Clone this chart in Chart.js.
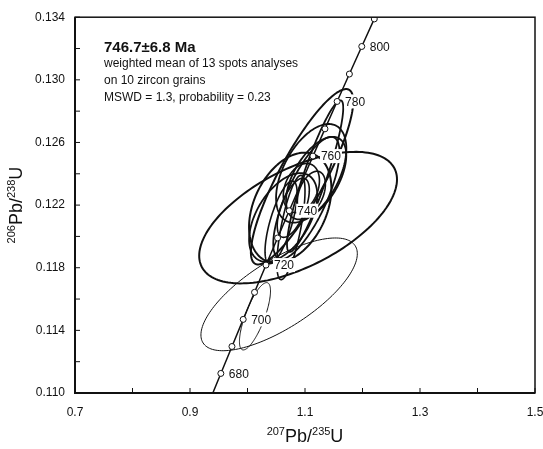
<!DOCTYPE html>
<html>
<head>
<meta charset="utf-8">
<script src="https://cdn.jsdelivr.net/npm/chart.js@4"></script>
<style>
  body { margin: 0; background: #fff; }
  #wrap { width: 543px; height: 449px; }
</style>
</head>
<body>
<div id="wrap"><canvas id="chart" width="543" height="449"></canvas></div>
<script>
// Concordia curve: ages (Ma) and their 207Pb/235U, 206Pb/238U ratios
const concAge = [670, 680, 690, 700, 710, 720, 730, 740, 750, 760, 770, 780, 790, 800, 810, 820];
const concX = [0.93450, 0.95365, 0.97298, 0.99251, 1.01223, 1.03215, 1.05226, 1.07257, 1.09308, 1.11380, 1.13472, 1.15585, 1.17719, 1.19873, 1.22049, 1.24247];
const concY = [0.10953, 0.11125, 0.11297, 0.11470, 0.11643, 0.11817, 0.11990, 0.12164, 0.12338, 0.12513, 0.12687, 0.12862, 0.13037, 0.13213, 0.13389, 0.13565];
const labelAges = [680, 700, 720, 740, 760, 780, 800];
const hiddenAges = [670, 750, 820];

// Spot analyses: centre, half widths of the error ellipse and correlation
const ellCx  = [1.088, 1.055, 1.013, 1.0949, 1.1176, 1.1108, 1.1194, 1.0743, 1.0621, 1.0937, 1.1111, 1.0796, 1.0584, 1.0756, 1.1024];
const ellCy  = [0.1212, 0.1163, 0.1149, 0.12381, 0.12385, 0.12403, 0.12372, 0.12183, 0.12121, 0.12309, 0.12278, 0.12183, 0.1209, 0.12057, 0.12246];
const ellSx  = [0.172, 0.136, 0.027, 0.0890, 0.0489, 0.0611, 0.0524, 0.0716, 0.0593, 0.0314, 0.0244, 0.0279, 0.0279, 0.0244, 0.0576];
const ellSy  = [0.0042, 0.0036, 0.00215, 0.0056, 0.00484, 0.00315, 0.00264, 0.00352, 0.00283, 0.00157, 0.00138, 0.00189, 0.00264, 0.00333, 0.0039];
const ellRho = [0.58, 0.72, 0.75, 0.86, 0.90, 0.50, 0.55, 0.35, 0.50, 0.30, 0.40, 0.60, 0.70, 0.70, 0.75];
const ellWidth = [2, 1, 1, 2, 1.8, 1.8, 1.8, 2, 1.8, 1.6, 1.6, 1.6, 1.6, 1.6, 1.8];

const xTickLabels = ['0.7', '0.9', '1.1', '1.3', '1.5'];
const yTickLabels = ['0.110', '0.114', '0.118', '0.122', '0.126', '0.130', '0.134'];

const noteTitle = '746.7\u00b16.8 Ma';
const noteLines = ['weighted mean of 13 spots analyses', 'on 10 zircon grains', 'MSWD = 1.3, probability = 0.23'];

const INK = '#111';
const FONT = 'Arial, "Liberation Sans", sans-serif';

const ellipsePlugin = {
  id: 'ellipses',
  beforeDatasetsDraw(chart) {
    const { ctx, chartArea: a, scales: { x, y } } = chart;
    ctx.save();
    ctx.beginPath();
    ctx.rect(a.left, a.top, a.right - a.left, a.bottom - a.top);
    ctx.clip();
    ctx.strokeStyle = INK;
    ctx.lineJoin = 'round';
    for (let i = 0; i < ellCx.length; i++) {
      const r = ellRho[i], q = Math.sqrt(1 - r * r);
      ctx.beginPath();
      for (let k = 0; k <= 160; k++) {
        const t = k / 160 * Math.PI * 2;
        const vx = ellCx[i] + ellSx[i] * Math.cos(t);
        const vy = ellCy[i] + ellSy[i] * (r * Math.cos(t) + q * Math.sin(t));
        const px = x.getPixelForValue(vx), py = y.getPixelForValue(vy);
        if (k === 0) ctx.moveTo(px, py); else ctx.lineTo(px, py);
      }
      ctx.lineWidth = ellWidth[i];
      ctx.stroke();
    }
    ctx.restore();
  }
};

const decorPlugin = {
  id: 'decor',
  afterDraw(chart) {
    const { ctx, chartArea: a, scales: { x, y } } = chart;
    ctx.save();
    // frame
    ctx.strokeStyle = INK;
    ctx.lineWidth = 1.5;
    ctx.strokeRect(a.left, a.top, a.right - a.left, a.bottom - a.top);
    ctx.lineWidth = 2;
    ctx.beginPath();
    ctx.moveTo(a.left, a.top); ctx.lineTo(a.left, a.bottom); ctx.lineTo(a.right, a.bottom);
    ctx.stroke();
    // inward ticks
    ctx.lineWidth = 1;
    ctx.beginPath();
    x.ticks.forEach(t => {
      const px = x.getPixelForValue(t.value);
      ctx.moveTo(px, a.bottom); ctx.lineTo(px, a.bottom - 5);
    });
    y.ticks.forEach(t => {
      const py = y.getPixelForValue(t.value);
      ctx.moveTo(a.left, py); ctx.lineTo(a.left + 5, py);
    });
    ctx.stroke();

    // x tick labels (the last one runs off the page, as in the original)
    ctx.fillStyle = INK;
    ctx.font = '12px ' + FONT;
    ctx.textAlign = 'center';
    ctx.textBaseline = 'middle';
    xTickLabels.forEach(l => ctx.fillText(l, x.getPixelForValue(parseFloat(l)), 413));
    ctx.textAlign = 'left';

    // age labels on the concordia
    labelAges.forEach(age => {
      const i = concAge.indexOf(age);
      const px = x.getPixelForValue(concX[i]) + 8;
      const py = y.getPixelForValue(concY[i]);
      const w = ctx.measureText(String(age)).width;
      ctx.fillStyle = '#fff';
      ctx.fillRect(px - 1, py - 7, w + 2, 14);
      ctx.fillStyle = INK;
      ctx.fillText(String(age), px, py + 1);
    });

    // note
    ctx.fillStyle = INK;
    ctx.textBaseline = 'alphabetic';
    ctx.font = 'bold 15px ' + FONT;
    ctx.fillText(noteTitle, 104, 52);
    ctx.font = '12px ' + FONT;
    noteLines.forEach((s, i) => ctx.fillText(s, 104, 67 + i * 17));

    // axis titles with superscripts
    const drawTitle = (parts, cx, cy, rot) => {
      ctx.save();
      ctx.translate(cx, cy);
      ctx.rotate(rot);
      let total = 0;
      parts.forEach(p => { ctx.font = (p[1] ? '11px ' : '18px ') + FONT; total += ctx.measureText(p[0]).width; });
      let pos = -total / 2;
      ctx.textBaseline = 'alphabetic';
      parts.forEach(p => {
        ctx.font = (p[1] ? '11px ' : '18px ') + FONT;
        ctx.fillText(p[0], pos, p[1] ? -1 : 6);
        pos += ctx.measureText(p[0]).width;
      });
      ctx.restore();
    };
    const midX = (a.left + a.right) / 2, midY = (a.top + a.bottom) / 2;
    drawTitle([['207', 1], ['Pb/', 0], ['235', 1], ['U', 0]], midX, 436, 0);
    drawTitle([['206', 1], ['Pb/', 0], ['238', 1], ['U', 0]], 16, midY, -Math.PI / 2);
    ctx.restore();
  }
};

const pointRadius = concAge.map(a => hiddenAges.includes(a) ? 0 : 3);

new Chart(document.getElementById('chart'), {
  type: 'scatter',
  data: {
    datasets: [{
      data: concAge.map((a, i) => ({ x: concX[i], y: concY[i] })),
      showLine: true,
      borderColor: INK,
      borderWidth: 1.5,
      pointRadius,
      pointBackgroundColor: '#fff',
      pointBorderColor: INK,
      pointBorderWidth: 1,
      clip: 0
    }]
  },
  options: {
    responsive: false,
    animation: false,
    events: [],
    layout: { padding: { top: 12, right: 8, left: 0, bottom: 0 } },
    plugins: { legend: { display: false }, tooltip: { enabled: false } },
    scales: {
      x: {
        type: 'linear', min: 0.7, max: 1.5,
        grid: { display: false, drawTicks: false },
        border: { display: false },
        afterFit: s => { s.height = 56; },
        ticks: { stepSize: 0.1, display: false }
      },
      y: {
        type: 'linear', min: 0.110, max: 0.134,
        grid: { display: false, drawTicks: false },
        border: { display: false },
        afterFit: s => { s.width = 75; },
        ticks: {
          stepSize: 0.002, padding: 10, color: INK,
          font: { size: 12, family: FONT },
          callback: v => yTickLabels.find(l => Math.abs(parseFloat(l) - v) < 1e-7) || ''
        }
      }
    }
  },
  plugins: [ellipsePlugin, decorPlugin]
});
</script>
</body>
</html>
